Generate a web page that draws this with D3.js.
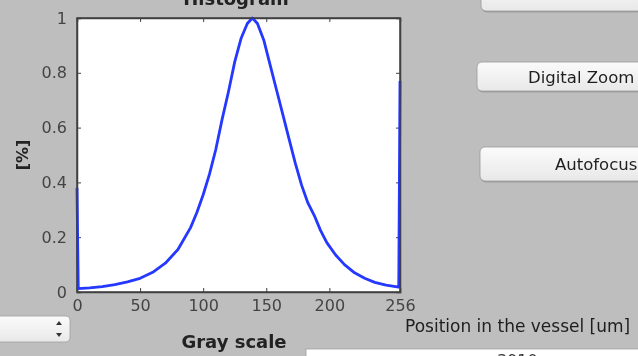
<!DOCTYPE html>
<html>
<head>
<meta charset="utf-8">
<script src="https://cdn.jsdelivr.net/npm/d3@7/dist/d3.min.js"></script>
<style>
  html, body { margin: 0; padding: 0; background: #bebebe; }
  svg { display: block; filter: blur(0.45px); }
  text { font-family: "DejaVu Sans", "Liberation Sans", Arial, sans-serif; }
</style>
</head>
<body>
<svg id="chart" width="638" height="356"></svg>
<script>
// ---- data ----
const grayLevels = [0, 1, 10, 20, 30, 40, 50, 60, 70, 80, 90, 95, 100, 105, 110, 115, 120, 125, 130, 135, 139, 143, 148, 153, 158, 163, 168, 173, 178, 183, 188, 193, 198, 205, 212, 220, 228, 236, 245, 255, 256];
const histValues = [0.38, 0.012, 0.015, 0.02, 0.027, 0.037, 0.05, 0.072, 0.105, 0.155, 0.235, 0.29, 0.355, 0.43, 0.52, 0.63, 0.73, 0.84, 0.925, 0.98, 1.0, 0.98, 0.92, 0.83, 0.74, 0.65, 0.56, 0.47, 0.39, 0.325, 0.28, 0.225, 0.18, 0.135, 0.1, 0.07, 0.05, 0.035, 0.025, 0.018, 0.77];
const xTicks = [0, 50, 100, 150, 200, 256];
const yTicks = [0, 0.2, 0.4, 0.6, 0.8, 1];
const titleText = "Histogram";
const xLabel = "Gray scale";
const yLabel = "[%]";

const svg = d3.select("#chart");

// ---- plot geometry ----
const L = 77, R = 400, T = 18, B = 292;
const x = d3.scaleLinear().domain([0, 256]).range([L, R]);
const y = d3.scaleLinear().domain([0, 1]).range([B, T]);

svg.append("rect").attr("x", L).attr("y", T).attr("width", R - L).attr("height", B - T)
  .attr("fill", "#ffffff");

const tickColor = "#404040";
const xBottom = svg.append("g").attr("transform", `translate(0,${B})`)
  .call(d3.axisBottom(x).tickValues(xTicks).tickSize(-4).tickPadding(8).tickFormat(d3.format("d")));
const xTop = svg.append("g").attr("transform", `translate(0,${T})`)
  .call(d3.axisTop(x).tickValues(xTicks).tickSize(-4).tickFormat(""));
const yLeft = svg.append("g").attr("transform", `translate(${L},0)`)
  .call(d3.axisLeft(y).tickValues(yTicks).tickSize(-4).tickPadding(10)
    .tickFormat(d => d === 0 || d === 1 ? d3.format("d")(d) : d3.format(".1f")(d)));
const yRight = svg.append("g").attr("transform", `translate(${R},0)`)
  .call(d3.axisRight(y).tickValues(yTicks).tickSize(-4).tickFormat(""));

[xBottom, xTop, yLeft, yRight].forEach(g => {
  g.select(".domain").attr("stroke", tickColor).attr("stroke-width", 1.5);
  g.selectAll(".tick line").attr("stroke", tickColor);
  g.selectAll(".tick text").attr("fill", "#444").style("font-size", "16px")
    .style("font-family", "'DejaVu Sans', sans-serif");
});

// histogram line
const line = d3.line().x((d, i) => x(grayLevels[i])).y(d => y(d));
svg.append("path").datum(histValues)
  .attr("d", line)
  .attr("fill", "none")
  .attr("stroke", "#2438ff")
  .attr("stroke-width", 2.8)
  .attr("stroke-linejoin", "round");

svg.append("rect").attr("x", L).attr("y", T).attr("width", R - L).attr("height", B - T)
  .attr("fill", "none").attr("stroke", tickColor).attr("stroke-width", 1.5);

// labels
svg.append("text").attr("x", 236).attr("y", 5).attr("text-anchor", "middle")
  .style("font-size", "18px").style("font-weight", "bold").attr("fill", "#222").text(titleText);
svg.append("text").attr("x", 234).attr("y", 348).attr("text-anchor", "middle")
  .style("font-size", "18px").style("font-weight", "bold").attr("fill", "#222").text(xLabel);
svg.append("text").attr("transform", "translate(28,155) rotate(-90)").attr("text-anchor", "middle")
  .style("font-size", "16px").style("font-weight", "bold").attr("fill", "#222").text(yLabel);

// ---- surrounding GUI widgets ----
const btnGrad = svg.append("defs").append("linearGradient").attr("id", "btn").attr("x1", 0).attr("y1", 0).attr("x2", 0).attr("y2", 1);
btnGrad.append("stop").attr("offset", "0%").attr("stop-color", "#fbfbfb");
btnGrad.append("stop").attr("offset", "100%").attr("stop-color", "#e8e8e8");

function button(x0, y0, w, h, label, tx) {
  svg.append("rect").attr("x", x0 + 0.5).attr("y", y0 + 1.5).attr("width", w).attr("height", h).attr("rx", 5)
    .attr("fill", "#8c8c8c").attr("opacity", 0.6);
  svg.append("rect").attr("x", x0).attr("y", y0).attr("width", w).attr("height", h).attr("rx", 5)
    .attr("fill", "url(#btn)").attr("stroke", "#9a9a9a").attr("stroke-width", 0.8);
  if (label) svg.append("text").attr("x", tx).attr("y", y0 + h / 2 + 6)
    .style("font-size", "16.5px").attr("fill", "#1e1e1e").text(label);
}
button(481, -20, 180, 31, null, 0);
button(477, 62, 180, 29, "Digital Zoom", 528);
button(480, 147, 180, 34, "Autofocus", 555);

// popup menu at bottom left
svg.append("rect").attr("x", -10).attr("y", 316).attr("width", 80).attr("height", 26).attr("rx", 4)
  .attr("fill", "url(#btn)").attr("stroke", "#a0a0a0").attr("stroke-width", 0.8);
svg.append("path").attr("d", "M56,325 L59,321 L62,325 Z M56,333 L59,337 L62,333 Z").attr("fill", "#333");

// position label and field
svg.append("text").attr("x", 405).attr("y", 332)
  .style("font-size", "17px").attr("fill", "#1e1e1e").text("Position in the vessel [um]");
svg.append("rect").attr("x", 306).attr("y", 349).attr("width", 340).attr("height", 20)
  .attr("fill", "#ffffff").attr("stroke", "#a0a0a0").attr("stroke-width", 0.8);
svg.append("text").attr("x", 497).attr("y", 366)
  .style("font-size", "16px").attr("fill", "#333").text("3910");
</script>
</body>
</html>
